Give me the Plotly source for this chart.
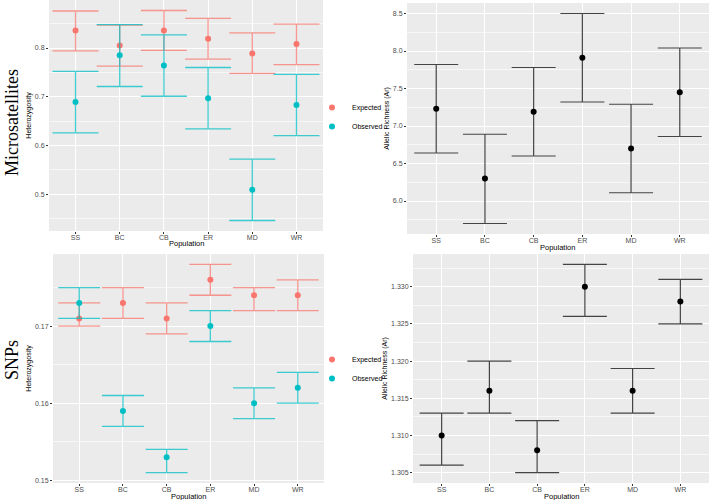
import plotly.graph_objects as go

pops = ["SS", "BC", "CB", "ER", "MD", "WR"]

# Microsatellites heterozygosity
ms_he = [0.836, 0.805, 0.836, 0.819, 0.789, 0.808]
ms_he_lo = [0.794, 0.763, 0.795, 0.777, 0.748, 0.766]
ms_he_hi = [0.876, 0.847, 0.877, 0.861, 0.831, 0.849]
ms_ho = [0.689, 0.785, 0.764, 0.697, 0.509, 0.683]
ms_ho_lo = [0.626, 0.721, 0.701, 0.634, 0.446, 0.620]
ms_ho_hi = [0.752, 0.848, 0.827, 0.760, 0.572, 0.746]
# Microsatellites allelic richness
ms_ar = [7.23, 6.30, 7.19, 7.91, 6.70, 7.45]
ms_ar_lo = [6.64, 5.70, 6.60, 7.32, 6.11, 6.86]
ms_ar_hi = [7.82, 6.89, 7.78, 8.50, 7.29, 8.04]
# SNPs heterozygosity
snp_he = [0.171, 0.173, 0.171, 0.176, 0.174, 0.174]
snp_he_lo = [0.170, 0.171, 0.169, 0.174, 0.172, 0.172]
snp_he_hi = [0.173, 0.175, 0.173, 0.178, 0.175, 0.176]
snp_ho = [0.173, 0.159, 0.153, 0.170, 0.160, 0.162]
snp_ho_lo = [0.171, 0.157, 0.151, 0.168, 0.158, 0.160]
snp_ho_hi = [0.175, 0.161, 0.154, 0.172, 0.162, 0.164]
# SNPs allelic richness
snp_ar = [1.310, 1.316, 1.308, 1.330, 1.316, 1.328]
snp_ar_lo = [1.306, 1.313, 1.305, 1.326, 1.313, 1.325]
snp_ar_hi = [1.313, 1.320, 1.312, 1.333, 1.319, 1.331]

RED = "#F8766D"
CYAN = "#00BFC4"
RED_E = "rgba(248,118,109,0.75)"
CYAN_E = "rgba(0,191,196,0.75)"
FONT = "Liberation Sans, Arial, sans-serif"
SERIF = "Liberation Serif, Times New Roman, serif"
W, H = 709, 500


def err(v, lo, hi, color, width, thick):
    return dict(type="data", symmetric=False,
                array=[h - m for m, h in zip(v, hi)],
                arrayminus=[m - l for m, l in zip(v, lo)],
                color=color, width=width, thickness=thick)


def expand(*arrs):
    lo = min(min(a) for a in arrs)
    hi = max(max(a) for a in arrs)
    d = (hi - lo) * 0.05
    return [lo - d, hi + d]


fig = go.Figure()

# Top-left: microsatellite heterozygosity
fig.add_trace(go.Scatter(x=pops, y=ms_he, mode="markers", name="Expected",
                         marker=dict(color=RED, size=6),
                         error_y=err(ms_he, ms_he_lo, ms_he_hi, RED_E, 23, 1.3),
                         xaxis="x", yaxis="y", legend="legend"))
fig.add_trace(go.Scatter(x=pops, y=ms_ho, mode="markers", name="Observed",
                         marker=dict(color=CYAN, size=6),
                         error_y=err(ms_ho, ms_ho_lo, ms_ho_hi, CYAN_E, 23, 1.3),
                         xaxis="x", yaxis="y", legend="legend"))
# Top-right: microsatellite allelic richness
fig.add_trace(go.Scatter(x=pops, y=ms_ar, mode="markers", showlegend=False,
                         marker=dict(color="black", size=6),
                         error_y=err(ms_ar, ms_ar_lo, ms_ar_hi, "#444444", 22, 1.2),
                         xaxis="x2", yaxis="y2"))
# Bottom-left: SNP heterozygosity
fig.add_trace(go.Scatter(x=pops, y=snp_he, mode="markers", name="Expected",
                         marker=dict(color=RED, size=6),
                         error_y=err(snp_he, snp_he_lo, snp_he_hi, RED_E, 21, 1.3),
                         xaxis="x3", yaxis="y3", legend="legend2"))
fig.add_trace(go.Scatter(x=pops, y=snp_ho, mode="markers", name="Observed",
                         marker=dict(color=CYAN, size=6),
                         error_y=err(snp_ho, snp_ho_lo, snp_ho_hi, CYAN_E, 21, 1.3),
                         xaxis="x3", yaxis="y3", legend="legend2"))
# Bottom-right: SNP allelic richness
fig.add_trace(go.Scatter(x=pops, y=snp_ar, mode="markers", showlegend=False,
                         marker=dict(color="black", size=6),
                         error_y=err(snp_ar, snp_ar_lo, snp_ar_hi, "#444444", 22, 1.2),
                         xaxis="x4", yaxis="y4"))


def xax(dom, anchor):
    return dict(domain=dom, anchor=anchor, type="category", range=[-0.6, 5.6],
                showgrid=True, gridcolor="white", gridwidth=1, zeroline=False,
                ticks="outside", ticklen=1.5, tickcolor="#333333", ticklabelstandoff=-2,
                tickfont=dict(size=7, color="#4D4D4D", family=FONT),
                showline=False, automargin=False)


def yax(dom, anchor, rng, dtick, fmt, title):
    return dict(domain=dom, anchor=anchor, range=rng, dtick=dtick, tick0=0,
                tickformat=fmt, showgrid=True, gridcolor="white", gridwidth=1,
                zeroline=False, ticks="outside", ticklen=2, tickcolor="#333333",
                tickfont=dict(size=7, color="#4D4D4D", family=FONT),
                minor=dict(showgrid=True, gridcolor="rgba(255,255,255,0.6)",
                           gridwidth=0.5, dtick=dtick / 2, tick0=0),
                title=dict(text=title, font=dict(size=7, color="black", family=FONT),
                           standoff=2),
                showline=False, automargin=False)


def xtitle(xc, yc):
    return dict(text="Population", x=xc / W, y=1 - yc / H, xref="paper", yref="paper",
                showarrow=False, xanchor="center", yanchor="middle",
                font=dict(size=7.5, color="black", family=FONT))


bg = "#EBEBEB"
fig.update_layout(
    width=W, height=H, margin=dict(l=0, r=0, t=0, b=0),
    paper_bgcolor="white", plot_bgcolor=bg,
    font=dict(family=FONT),
    xaxis=xax([49 / W, 323 / W], "y"),
    yaxis=yax([1 - 231 / H, 1.0], "x", expand(ms_he_lo, ms_ho_lo, ms_he_hi, ms_ho_hi),
              0.1, ".1f", "Heterozygosity"),
    xaxis2=xax([407 / W, 1.0], "y2"),
    yaxis2=yax([1 - 234 / H, 1 - 3 / H], "x2", expand(ms_ar_lo, ms_ar_hi),
               0.5, ".1f", "Allelic Richness (Ar)"),
    xaxis3=xax([53 / W, 324 / W], "y3"),
    yaxis3=yax([1 - 483 / H, 1 - 254 / H], "x3", expand(snp_he_lo, snp_ho_lo, snp_he_hi, snp_ho_hi),
               0.01, ".2f", "Heterozygosity"),
    xaxis4=xax([413 / W, 1.0], "y4"),
    yaxis4=yax([1 - 483 / H, 1 - 254 / H], "x4", expand(snp_ar_lo, snp_ar_hi),
               0.005, ".3f", "Allelic Richness (Ar)"),
    legend=dict(x=312 / W, y=1 - 117 / H, xanchor="left", yanchor="middle",
                bgcolor="rgba(0,0,0,0)", font=dict(size=7, color="black", family=FONT),
                itemwidth=30, tracegroupgap=0),
    legend2=dict(x=312 / W, y=1 - 369 / H, xanchor="left", yanchor="middle",
                 bgcolor="rgba(0,0,0,0)", font=dict(size=7, color="black", family=FONT),
                 itemwidth=30, tracegroupgap=0),
    annotations=[
        dict(text="Microsatellites", x=0, y=1 - 123 / H, xref="paper", yref="paper",
             showarrow=False, textangle=-90, xanchor="left", yanchor="middle",
             font=dict(family=SERIF, size=18, color="black")),
        dict(text="SNPs", x=0, y=1 - 360 / H, xref="paper", yref="paper",
             showarrow=False, textangle=-90, xanchor="left", yanchor="middle",
             font=dict(family=SERIF, size=18, color="black")),
        xtitle(186, 243),
        xtitle(557, 247),
        xtitle(189, 496),
        xtitle(561, 496),
    ],
)

fig.write_html("out.html", config={"displayModeBar": False},
               post_script="document.body.style.margin='0';")
